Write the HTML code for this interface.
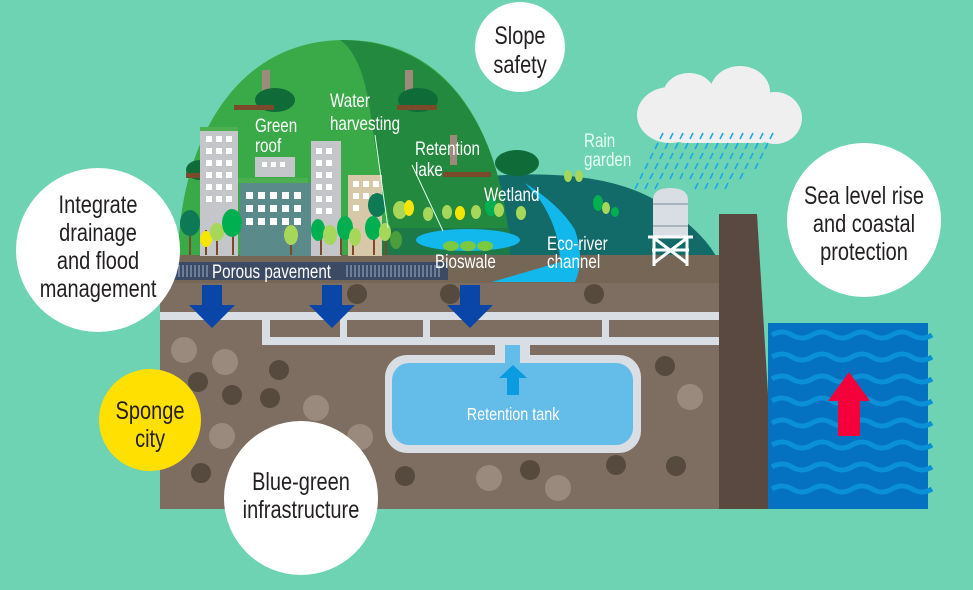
<!DOCTYPE html>
<html><head><meta charset="utf-8"><style>
html,body{margin:0;padding:0;width:973px;height:590px;overflow:hidden;background:#6dd3b2}
svg{display:block}
text{font-family:"Liberation Sans Narrow","Liberation Sans",sans-serif;transform-box:fill-box;transform:scaleX(.8)}
.c text{transform-origin:center}
.l text{transform-origin:left}
</style></head><body>
<svg width="973" height="590" viewBox="0 0 973 590" xmlns="http://www.w3.org/2000/svg">
<rect width="973" height="590" fill="#6dd3b2"/>
<!-- hills -->
<path d="M488 256 L488 176 Q600 168 655 200 Q700 228 716 256 Z" fill="#126b69"/>
<path d="M178 256 C180 150 230 40 345 40 C460 40 505 150 510 256 Z" fill="#3aaa48"/>
<path d="M340 40 C460 40 505 150 510 256 L395 256 C385 200 375 150 370 110 C365 75 355 50 340 40 Z" fill="#22893e"/>
<rect x="360" y="228" width="150" height="28" fill="#1d7a48"/>
<!-- chimneys & bushes -->
<rect x="262" y="70" width="8" height="30" fill="#9e8a7c"/>
<rect x="405" y="70" width="8" height="30" fill="#9e8a7c"/>
<rect x="450" y="135" width="7" height="30" fill="#9e8a7c"/>
<g fill="#0f6b38"><ellipse cx="275" cy="100" rx="20" ry="12"/><ellipse cx="418" cy="100" rx="20" ry="12"/><ellipse cx="517" cy="163" rx="22" ry="13"/><ellipse cx="200" cy="170" rx="14" ry="10"/></g>
<g fill="#7a4a2a"><rect x="234" y="105" width="40" height="5"/><rect x="397" y="105" width="40" height="5"/><rect x="443" y="172" width="48" height="5"/><rect x="186" y="173" width="48" height="5"/></g>
<!-- ground -->
<rect x="160" y="255" width="560" height="254" fill="#7d6e61"/>
<rect x="160" y="255" width="560" height="28" fill="#766656"/>
<rect x="170" y="262" width="278" height="18" fill="#3c4a63"/>
<g stroke="#8aa0c0" stroke-width="1.2"><path d="M175 265v12M179 265v12M183 265v12M187 265v12M191 265v12M195 265v12M199 265v12M203 265v12M207 265v12M347 265v12M351 265v12M355 265v12M359 265v12M363 265v12M367 265v12M371 265v12M375 265v12M379 265v12M383 265v12M387 265v12M391 265v12M395 265v12M399 265v12M403 265v12M407 265v12M411 265v12M415 265v12M419 265v12M423 265v12M427 265v12M431 265v12M435 265v12M439 265v12"/></g>
<!-- stones -->
<g fill="#564a3e"><circle cx="357" cy="294" r="10"/><circle cx="450" cy="294" r="10"/><circle cx="594" cy="294" r="10"/><circle cx="198" cy="382" r="10"/><circle cx="232" cy="395" r="10"/><circle cx="279" cy="370" r="10"/><circle cx="201" cy="473" r="10"/><circle cx="330" cy="474" r="10"/><circle cx="405" cy="476" r="10"/><circle cx="665" cy="366" r="10"/><circle cx="676" cy="466" r="10"/><circle cx="270" cy="398" r="10"/><circle cx="530" cy="470" r="10"/><circle cx="616" cy="465" r="10"/></g>
<g fill="#998a7d"><circle cx="184" cy="350" r="13"/><circle cx="225" cy="362" r="13"/><circle cx="316" cy="408" r="13"/><circle cx="222" cy="436" r="13"/><circle cx="360" cy="437" r="13"/><circle cx="489" cy="478" r="13"/><circle cx="558" cy="488" r="13"/><circle cx="690" cy="397" r="13"/></g>
<!-- pipes -->
<g fill="#d9dee5"><rect x="160" y="312" width="560" height="8"/><rect x="265" y="337" width="455" height="8"/><rect x="262" y="312" width="8" height="33"/><rect x="340" y="320" width="7" height="25"/><rect x="423" y="320" width="7" height="25"/><rect x="602" y="320" width="7" height="25"/><rect x="495" y="345" width="35" height="15"/></g>
<rect x="385" y="355" width="256" height="98" rx="22" fill="#d9dee5"/>
<rect x="392" y="363" width="241" height="82" rx="17" fill="#64bce9"/>
<rect x="505" y="345" width="15" height="20" fill="#64bce9"/>
<path d="M513 365 L527 378 L519 378 L519 395 L507 395 L507 378 L499 378 Z" fill="#0a9be0"/>
<g class="c"><text x="513" y="420" font-size="18" fill="#fff" text-anchor="middle">Retention tank</text></g>
<!-- blue arrows -->
<g fill="#0a45a8"><path d="M202 285h20v20h13l-23 23-23-23h13z"/><path d="M322 285h20v20h13l-23 23-23-23h13z"/><path d="M460 285h20v20h13l-23 23-23-23h13z"/></g>
<!-- river -->
<path d="M492 282 Q540 268 560 262 Q560 230 540 200 L525 183 Q560 205 575 230 Q585 260 575 282 Z" fill="#12b8ec"/>
<!-- lake -->
<ellipse cx="468" cy="240" rx="52" ry="11" fill="#12b8ec"/>
<g fill="#7ac943"><ellipse cx="451" cy="246" rx="8" ry="5"/><ellipse cx="468" cy="246" rx="8" ry="5"/><ellipse cx="485" cy="246" rx="8" ry="5"/></g>
<!-- buildings -->
<rect x="240" y="183" width="80" height="73" fill="#5a8a8a"/>
<rect x="255" y="157" width="40" height="20" fill="#c4c6c9"/>
<rect x="200" y="130" width="38" height="126" fill="#c4c6c9"/>
<rect x="311" y="141" width="30" height="115" fill="#c4c6c9"/>
<rect x="348" y="175" width="34" height="81" fill="#d6c8a8"/>
<g fill="#fff">
<rect x="206" y="136" width="6" height="6"/><rect x="216" y="136" width="6" height="6"/><rect x="226" y="136" width="6" height="6"/>
<rect x="206" y="148" width="6" height="6"/><rect x="216" y="148" width="6" height="6"/><rect x="226" y="148" width="6" height="6"/>
<rect x="206" y="160" width="6" height="6"/><rect x="216" y="160" width="6" height="6"/><rect x="226" y="160" width="6" height="6"/>
<rect x="206" y="172" width="6" height="6"/><rect x="216" y="172" width="6" height="6"/><rect x="226" y="172" width="6" height="6"/>
<rect x="206" y="184" width="6" height="6"/><rect x="216" y="184" width="6" height="6"/><rect x="226" y="184" width="6" height="6"/>
<rect x="206" y="196" width="6" height="6"/><rect x="216" y="196" width="6" height="6"/><rect x="226" y="196" width="6" height="6"/>
<rect x="246" y="192" width="7" height="7"/><rect x="258" y="192" width="7" height="7"/><rect x="270" y="192" width="7" height="7"/><rect x="282" y="192" width="7" height="7"/><rect x="294" y="192" width="7" height="7"/>
<rect x="246" y="205" width="7" height="7"/><rect x="258" y="205" width="7" height="7"/><rect x="270" y="205" width="7" height="7"/><rect x="282" y="205" width="7" height="7"/><rect x="294" y="205" width="7" height="7"/>
<rect x="246" y="218" width="7" height="7"/><rect x="258" y="218" width="7" height="7"/><rect x="270" y="218" width="7" height="7"/><rect x="282" y="218" width="7" height="7"/><rect x="294" y="218" width="7" height="7"/>
<rect x="316" y="148" width="6" height="6"/><rect x="326" y="148" width="6" height="6"/><rect x="316" y="160" width="6" height="6"/><rect x="326" y="160" width="6" height="6"/><rect x="316" y="172" width="6" height="6"/><rect x="326" y="172" width="6" height="6"/><rect x="316" y="184" width="6" height="6"/><rect x="326" y="184" width="6" height="6"/><rect x="316" y="196" width="6" height="6"/><rect x="326" y="196" width="6" height="6"/><rect x="316" y="208" width="6" height="6"/><rect x="326" y="208" width="6" height="6"/>
<rect x="353" y="181" width="6" height="6"/><rect x="363" y="181" width="6" height="6"/><rect x="373" y="181" width="6" height="6"/><rect x="353" y="193" width="6" height="6"/><rect x="363" y="193" width="6" height="6"/><rect x="373" y="193" width="6" height="6"/><rect x="353" y="205" width="6" height="6"/>
<rect x="262" y="162" width="5" height="5"/><rect x="271" y="162" width="5" height="5"/><rect x="280" y="162" width="5" height="5"/>
</g>
<rect x="200" y="127" width="38" height="4" fill="#4caf50"/>
<rect x="238" y="178" width="70" height="5" fill="#4caf50"/>
<!-- trees -->
<g>
<g fill="#7a4a2a"><rect x="189" y="225" width="2" height="30"/><rect x="205" y="230" width="2" height="25"/><rect x="216" y="230" width="2" height="25"/><rect x="232" y="225" width="2" height="30"/><rect x="290" y="235" width="2" height="20"/><rect x="320" y="235" width="2" height="20"/><rect x="340" y="235" width="2" height="20"/><rect x="352" y="235" width="2" height="20"/><rect x="373" y="230" width="2" height="25"/><rect x="385" y="235" width="2" height="20"/></g>
<ellipse cx="190" cy="223" rx="10" ry="13" fill="#0e7a55"/>
<ellipse cx="206" cy="239" rx="6" ry="8" fill="#f5e600"/>
<ellipse cx="217" cy="232" rx="7" ry="9" fill="#a6d75a"/>
<ellipse cx="232" cy="223" rx="10" ry="14" fill="#00b050"/>
<ellipse cx="291" cy="235" rx="7" ry="10" fill="#a6d75a"/>
<ellipse cx="318" cy="230" rx="7" ry="11" fill="#00b050"/>
<ellipse cx="330" cy="235" rx="7" ry="10" fill="#a6d75a"/>
<ellipse cx="345" cy="228" rx="8" ry="12" fill="#00b050"/>
<ellipse cx="355" cy="237" rx="6" ry="9" fill="#a6d75a"/>
<ellipse cx="373" cy="228" rx="8" ry="12" fill="#00b050"/>
<ellipse cx="385" cy="232" rx="6" ry="9" fill="#a6d75a"/>
<ellipse cx="396" cy="240" rx="6" ry="9" fill="#4b9e3c"/>
<ellipse cx="377" cy="205" rx="9" ry="12" fill="#0e7a55"/>
<ellipse cx="400" cy="210" rx="7" ry="9" fill="#a6d75a"/>
<ellipse cx="409" cy="208" rx="5" ry="8" fill="#f5e600"/>
<ellipse cx="428" cy="214" rx="5" ry="7" fill="#a6d75a"/>
<ellipse cx="447" cy="212" rx="5" ry="7" fill="#a6d75a"/>
<ellipse cx="460" cy="213" rx="5" ry="7" fill="#f5e600"/>
<ellipse cx="476" cy="212" rx="5" ry="7" fill="#a6d75a"/>
<ellipse cx="491" cy="207" rx="6" ry="9" fill="#00b050"/>
<ellipse cx="499" cy="210" rx="5" ry="7" fill="#a6d75a"/>
<ellipse cx="521" cy="213" rx="5" ry="7" fill="#a6d75a"/>
<ellipse cx="568" cy="176" rx="4" ry="6" fill="#a6d75a"/>
<ellipse cx="579" cy="176" rx="4" ry="6" fill="#a6d75a"/>
<ellipse cx="598" cy="203" rx="5" ry="8" fill="#00b050"/>
<ellipse cx="606" cy="208" rx="4" ry="6" fill="#a6d75a"/>
<ellipse cx="615" cy="212" rx="4" ry="5" fill="#00b050"/>
</g>
<!-- label lines -->
<g stroke="#dfe" stroke-width="1"><path d="M375 135 L388 228"/><path d="M412 165 L443 231"/></g>
<!-- tower -->
<path d="M653 200 Q653 188 670 188 Q688 188 688 200 L688 237 L653 237 Z" fill="#d9dee5"/>
<g stroke="#9aa3ad" stroke-width="1.5"><path d="M653 204h35M653 226h35"/></g>
<g stroke="#fff" stroke-width="3" fill="none"><path d="M648 237h45M652 250h37M654 237v29M687 237v29M654 238l33 25M687 238l-33 25"/></g>
<!-- wall -->
<path d="M719 214 L757 214 L775 509 L719 509 Z" fill="#5a4940"/>
<!-- sea -->
<rect x="768" y="323" width="160" height="186" fill="#0472c0"/>
<g stroke="#0a90d6" stroke-width="5" fill="none">
<path d="M772 335 q10-6 20 0 t20 0 t20 0 t20 0 t20 0 t20 0 t20 0 t20 0"/>
<path d="M772 357 q10-6 20 0 t20 0 t20 0 t20 0 t20 0 t20 0 t20 0 t20 0"/>
<path d="M772 379 q10-6 20 0 t20 0 t20 0 t20 0 t20 0 t20 0 t20 0 t20 0"/>
<path d="M772 401 q10-6 20 0 t20 0 t20 0 t20 0 t20 0 t20 0 t20 0 t20 0"/>
<path d="M772 423 q10-6 20 0 t20 0 t20 0 t20 0 t20 0 t20 0 t20 0 t20 0"/>
<path d="M772 445 q10-6 20 0 t20 0 t20 0 t20 0 t20 0 t20 0 t20 0 t20 0"/>
<path d="M772 467 q10-6 20 0 t20 0 t20 0 t20 0 t20 0 t20 0 t20 0 t20 0"/>
<path d="M772 489 q10-6 20 0 t20 0 t20 0 t20 0 t20 0 t20 0 t20 0 t20 0"/>
</g>
<path d="M849 372 L870 401 L860 401 L860 436 L838 436 L838 401 L828 401 Z" fill="#f5003a"/>
<!-- cloud -->
<g fill="#efefef"><ellipse cx="689" cy="95" rx="26" ry="22"/><ellipse cx="740" cy="92" rx="30" ry="26"/><ellipse cx="670" cy="115" rx="33" ry="28"/><ellipse cx="775" cy="118" rx="27" ry="26"/><rect x="670" y="100" width="105" height="43" rx="15"/></g>
<g stroke="#1ba8ea" stroke-width="1.6">
<path d="M663 133l-3 6M673 133l-3 6M683 133l-3 6M693 133l-3 6M703 133l-3 6M713 133l-3 6M723 133l-3 6M733 133l-3 6M743 133l-3 6M753 133l-3 6M763 133l-3 6M773 133l-3 6"/>
<path d="M658 143l-3 6M668 143l-3 6M678 143l-3 6M688 143l-3 6M698 143l-3 6M708 143l-3 6M718 143l-3 6M728 143l-3 6M738 143l-3 6M748 143l-3 6M758 143l-3 6M768 143l-3 6"/>
<path d="M653 153l-3 6M663 153l-3 6M673 153l-3 6M683 153l-3 6M693 153l-3 6M703 153l-3 6M713 153l-3 6M723 153l-3 6M733 153l-3 6M743 153l-3 6M753 153l-3 6M763 153l-3 6"/>
<path d="M648 163l-3 6M658 163l-3 6M668 163l-3 6M678 163l-3 6M688 163l-3 6M698 163l-3 6M708 163l-3 6M718 163l-3 6M728 163l-3 6M738 163l-3 6M748 163l-3 6M758 163l-3 6"/>
<path d="M643 173l-3 6M653 173l-3 6M663 173l-3 6M673 173l-3 6M683 173l-3 6M693 173l-3 6M703 173l-3 6M713 173l-3 6M723 173l-3 6M733 173l-3 6M743 173l-3 6"/>
<path d="M638 183l-3 6M648 183l-3 6M658 183l-3 6M698 183l-3 6M708 183l-3 6M718 183l-3 6M728 183l-3 6"/>
</g>
<!-- small labels -->
<g class="l" fill="#fff" font-size="19">
<text x="255" y="132">Green</text><text x="255" y="152">roof</text>
<text x="330" y="107">Water</text><text x="330" y="130">harvesting</text>
<text x="415" y="155">Retention</text><text x="415" y="176">lake</text>
<text x="484" y="201">Wetland</text>
<text x="584" y="147" fill="#e8fff4">Rain</text><text x="584" y="166" fill="#e8fff4">garden</text>
<text x="547" y="250">Eco-river</text><text x="547" y="268">channel</text>
<text x="435" y="268">Bioswale</text>
<text x="212" y="278">Porous pavement</text>
</g>
<!-- circles -->
<circle cx="98" cy="250" r="82" fill="#fff"/>
<circle cx="520" cy="47" r="45" fill="#fff"/>
<circle cx="864" cy="220" r="77" fill="#fff"/>
<circle cx="150" cy="420" r="51" fill="#ffe000"/>
<circle cx="301" cy="498" r="77" fill="#fff"/>
<g class="c" fill="#231f20" font-size="25" text-anchor="middle">
<text x="98" y="213">Integrate</text><text x="98" y="241">drainage</text><text x="98" y="269">and flood</text><text x="98" y="297">management</text>
<text x="520" y="44">Slope</text><text x="520" y="73">safety</text>
<text x="864" y="204">Sea level rise</text><text x="864" y="232">and coastal</text><text x="864" y="260">protection</text>
<text x="150" y="419">Sponge</text><text x="150" y="447">city</text>
<text x="301" y="490">Blue-green</text><text x="301" y="518">infrastructure</text>
</g>
</svg>
</body></html>
